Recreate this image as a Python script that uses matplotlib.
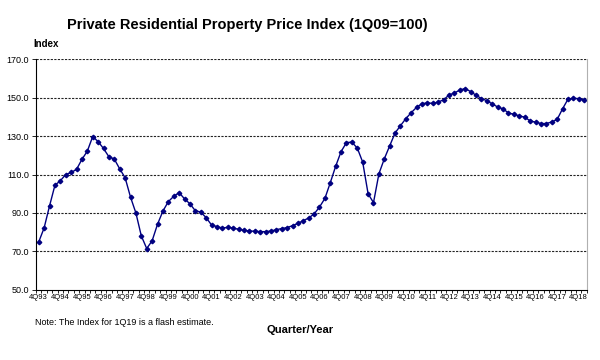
import matplotlib
matplotlib.use("Agg")
import matplotlib.pyplot as plt
from matplotlib.ticker import FixedLocator, MultipleLocator, FormatStrFormatter

plt.rcParams['font.family'] = ['Liberation Sans', 'DejaVu Sans']

# quarters from 4Q93 to 1Q19
years = [f"{y % 100:02d}" for y in range(1993, 2020)]
quarters = ["4Q93"] + [f"{q}Q{yy}" for yy in years[1:-1] for q in range(1, 5)] + ["1Q19"]

index_values = [
    74.9, 82.2, 93.6, 104.4, 106.8, 110.0, 111.1, 112.7, 117.9, 122.2,
    129.8, 127.2, 123.6, 119.3, 118.1, 113.0, 108.4, 98.3, 90.0, 78.1,
    71.5, 75.5, 84.1, 91.0, 95.9, 98.7, 100.6, 97.4, 94.8, 91.2,
    90.5, 87.6, 83.8, 82.9, 82.2, 82.5, 82.2, 81.5, 81.0, 80.6,
    80.5, 80.3, 80.3, 80.6, 81.3, 81.9, 82.4, 83.4, 84.6, 86.0,
    87.4, 89.5, 93.1, 97.6, 105.8, 114.4, 122.0, 126.7, 126.9, 123.8,
    116.5, 100.0, 95.4, 110.4, 118.2, 125.0, 131.7, 135.5, 139.2, 142.3,
    145.1, 147.0, 147.3, 147.1, 147.8, 149.0, 151.5, 152.5, 154.1, 154.8,
    153.2, 151.3, 149.6, 148.5, 146.8, 145.2, 144.2, 142.1, 141.4, 140.6,
    139.9, 138.0, 137.3, 136.6, 136.6, 137.4, 138.7, 144.2, 149.2, 149.7,
    149.6, 149.0,
]

y_ticks = [50, 70, 90, 110, 130, 150, 170]

fig = plt.figure(figsize=(6, 3.6), dpi=100)
ax = fig.add_axes([0.06, 0.195, 0.918, 0.64])

x = list(range(len(index_values)))
ax.plot(x, index_values, color='#000080', linewidth=1.0,
        marker='D', markersize=2.3, markerfacecolor='#000080',
        markeredgecolor='#000080')

ax.set_xlim(-0.5, len(index_values) - 0.5)
ax.set_ylim(50, 170)

ax.yaxis.set_major_locator(FixedLocator(y_ticks))
ax.yaxis.set_major_formatter(FormatStrFormatter('%.1f'))
for yv in y_ticks[1:]:
    ax.axhline(yv, color='#222222', linestyle=(0, (2, 1.2)), linewidth=0.8, zorder=0)

label_pos = [i for i, q in enumerate(quarters) if q.startswith('4Q')]
ax.set_xticks(label_pos)
ax.set_xticklabels([quarters[i] for i in label_pos])
ax.xaxis.set_minor_locator(MultipleLocator(1, offset=0.5))
ax.tick_params(axis='x', which='major', length=0, labelsize=5.5, pad=3)
ax.tick_params(axis='x', which='minor', length=2.5, width=0.6)
ax.tick_params(axis='y', which='major', length=3, width=0.6, labelsize=6.5, pad=2)

ax.spines['top'].set_visible(False)
ax.spines['right'].set_color('#b0b0b0')
ax.spines['left'].set_linewidth(0.8)
ax.spines['bottom'].set_linewidth(0.8)

fig.text(0.412, 0.93, "Private Residential Property Price Index (1Q09=100)",
         ha='center', va='center', fontsize=10.5, fontweight='bold')
fig.text(0.055, 0.878, "Index", ha='left', va='center', fontsize=7, fontweight='bold')
fig.text(0.058, 0.103, "Note: The Index for 1Q19 is a flash estimate.",
         ha='left', va='center', fontsize=6.5)
fig.text(0.5, 0.083, "Quarter/Year", ha='center', va='center',
         fontsize=8, fontweight='bold')

fig.savefig("out.png", dpi=100)
